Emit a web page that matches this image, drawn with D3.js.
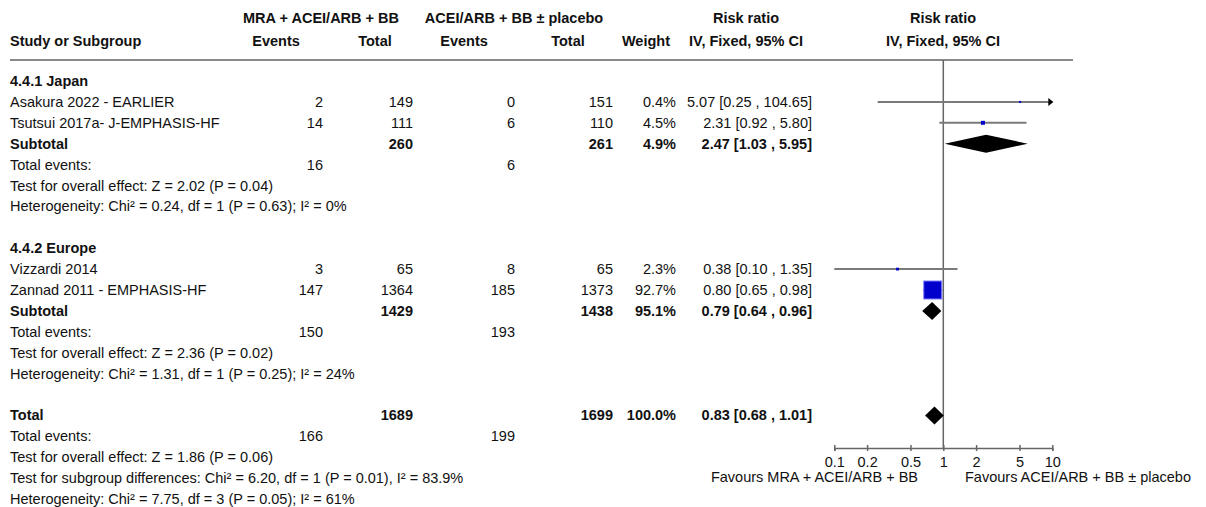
<!DOCTYPE html>
<html>
<head>
<meta charset="utf-8">
<script src="https://cdn.jsdelivr.net/npm/d3@7"></script>
<style>
  html, body { margin: 0; padding: 0; background: #fff; }
  svg { display: block; }
  text { font-family: "Liberation Sans", Arial, sans-serif; font-size: 14.5px; fill: #111; }
  .b { font-weight: bold; }
</style>
</head>
<body>
<svg id="chart" width="1206" height="507"></svg>
<script>
// Study-level data
const studies = ["Asakura 2022 - EARLIER", "Tsutsui 2017a- J-EMPHASIS-HF", "Vizzardi 2014", "Zannad 2011 - EMPHASIS-HF"];
const studyGroup = [0, 0, 1, 1];
const expEvents = [2, 14, 3, 147];
const expTotal = [149, 111, 65, 1364];
const ctlEvents = [0, 6, 8, 185];
const ctlTotal = [151, 110, 65, 1373];
const weights = [0.4, 4.5, 2.3, 92.7];
const rr = [5.07, 2.31, 0.38, 0.80];
const rrLo = [0.25, 0.92, 0.10, 0.65];
const rrHi = [104.65, 5.80, 1.35, 0.98];

// Subgroup summaries
const subgroups = ["4.4.1 Japan", "4.4.2 Europe"];
const subExpTotal = [260, 1429];
const subCtlTotal = [261, 1438];
const subExpEvents = [16, 150];
const subCtlEvents = [6, 193];
const subWeight = [4.9, 95.1];
const subRR = [2.47, 0.79];
const subLo = [1.03, 0.64];
const subHi = [5.95, 0.96];
const subTest = ["Test for overall effect: Z = 2.02 (P = 0.04)", "Test for overall effect: Z = 2.36 (P = 0.02)"];
const subHet = ["Heterogeneity: Chi\u00b2 = 0.24, df = 1 (P = 0.63); I\u00b2 = 0%", "Heterogeneity: Chi\u00b2 = 1.31, df = 1 (P = 0.25); I\u00b2 = 24%"];

// Overall summary
const totalExp = 1689;
const totalCtl = 1699;
const totalExpEvents = 166;
const totalCtlEvents = 199;
const totalWeight = 100.0;
const totalRR = 0.83;
const totalLo = 0.68;
const totalHi = 1.01;
const footerLines = [
  "Test for overall effect: Z = 1.86 (P = 0.06)",
  "Test for subgroup differences: Chi\u00b2 = 6.20, df = 1 (P = 0.01), I\u00b2 = 83.9%",
  "Heterogeneity: Chi\u00b2 = 7.75, df = 3 (P = 0.05); I\u00b2 = 61%"
];

// Axis
const axisTicks = [0.1, 0.2, 0.5, 1, 2, 5, 10];
const axisTickLabels = ["0.1", "0.2", "0.5", "1", "2", "5", "10"];
const favoursLeft = "Favours MRA + ACEI/ARB + BB";
const favoursRight = "Favours ACEI/ARB + BB \u00b1 placebo";

// Column headers
const groupHeaders = ["MRA + ACEI/ARB + BB", "ACEI/ARB + BB \u00b1 placebo", "Risk ratio", "Risk ratio"];
const colHeaders = ["Study or Subgroup", "Events", "Total", "Events", "Total", "Weight", "IV, Fixed, 95% CI", "IV, Fixed, 95% CI"];

const svg = d3.select("#chart");

// column anchors (right edges for numeric columns)
const col = { name: 10, expE: 323, expT: 413, ctlE: 515, ctlT: 613, w: 676, ci: 812 };

const x = d3.scaleLog().domain([0.1, 10]).range([834.3, 1052.3]);
const rowY = i => 81 + i * 20.9;
const base = 5; // baseline offset from row center

const fmtCI = (m, l, h) => `${m.toFixed(2)} [${l.toFixed(2)} , ${h.toFixed(2)}]`;
const fmtW = w => w.toFixed(1) + "%";

function txt(xp, y, s, anchor, bold) {
  svg.append("text")
    .attr("x", xp).attr("y", y + base)
    .attr("text-anchor", anchor || "start")
    .attr("class", bold ? "b" : null)
    .text(s);
}

// headers
txt(321, 18, groupHeaders[0], "middle", true);
txt(514, 18, groupHeaders[1], "middle", true);
txt(746, 18, groupHeaders[2], "middle", true);
txt(943, 18, groupHeaders[3], "middle", true);
txt(col.name, 41, colHeaders[0], "start", true);
txt(276, 41, colHeaders[1], "middle", true);
txt(375, 41, colHeaders[2], "middle", true);
txt(464, 41, colHeaders[3], "middle", true);
txt(568, 41, colHeaders[4], "middle", true);
txt(670, 41, colHeaders[5], "end", true);
txt(746, 41, colHeaders[6], "middle", true);
txt(943, 41, colHeaders[7], "middle", true);

svg.append("line").attr("x1", 10).attr("x2", 1073).attr("y1", 60).attr("y2", 60)
  .attr("stroke", "#8a8a8a").attr("stroke-width", 2);

// vertical line of no effect
svg.append("line").attr("x1", x(1)).attr("x2", x(1)).attr("y1", 60).attr("y2", 448)
  .attr("stroke", "#666").attr("stroke-width", 1.5);

const plot = svg.append("g");
const maxW = d3.max(weights);
const boxSize = w => Math.max(2, 18 * Math.sqrt(w / maxW));

function diamond(y, m, l, h) {
  const hh = 9;
  plot.append("path")
    .attr("d", `M${x(l)},${y} L${x(m)},${y - hh} L${x(h)},${y} L${x(m)},${y + hh} Z`)
    .attr("fill", "#000");
}

let r = 0;
subgroups.forEach((g, gi) => {
  txt(col.name, rowY(r), g, "start", true);
  r++;
  studies.forEach((s, i) => {
    if (studyGroup[i] !== gi) return;
    const y = rowY(r);
    txt(col.name, y, s);
    txt(col.expE, y, expEvents[i], "end");
    txt(col.expT, y, expTotal[i], "end");
    txt(col.ctlE, y, ctlEvents[i], "end");
    txt(col.ctlT, y, ctlTotal[i], "end");
    txt(col.w, y, fmtW(weights[i]), "end");
    txt(col.ci, y, fmtCI(rr[i], rrLo[i], rrHi[i]), "end");
    const [d0, d1] = x.domain();
    const lo = Math.max(rrLo[i], d0), hi = Math.min(rrHi[i], d1);
    plot.append("line").attr("x1", x(lo)).attr("x2", x(hi)).attr("y1", y).attr("y2", y)
      .attr("stroke", "#7a7a7a").attr("stroke-width", 2);
    if (rrHi[i] > d1) {
      plot.append("path")
        .attr("d", `M${x(d1) - 4},${y - 4} L${x(d1) + 1},${y} L${x(d1) - 4},${y + 4} Z`)
        .attr("fill", "#000");
    }
    const bs = boxSize(weights[i]);
    plot.append("rect")
      .attr("x", x(rr[i]) - bs / 2).attr("y", y - bs / 2)
      .attr("width", bs).attr("height", bs)
      .attr("fill", "#0000cc")
      .attr("stroke", bs > 6 ? "#7f7fff" : "none").attr("stroke-width", 1);
    r++;
  });
  let y = rowY(r);
  txt(col.name, y, "Subtotal", "start", true);
  txt(col.expT, y, subExpTotal[gi], "end", true);
  txt(col.ctlT, y, subCtlTotal[gi], "end", true);
  txt(col.w, y, fmtW(subWeight[gi]), "end", true);
  txt(col.ci, y, fmtCI(subRR[gi], subLo[gi], subHi[gi]), "end", true);
  diamond(y, subRR[gi], subLo[gi], subHi[gi]);
  r++;
  y = rowY(r);
  txt(col.name, y, "Total events:");
  txt(col.expE, y, subExpEvents[gi], "end");
  txt(col.ctlE, y, subCtlEvents[gi], "end");
  r++;
  txt(col.name, rowY(r), subTest[gi]); r++;
  txt(col.name, rowY(r), subHet[gi]); r++;
  r++; // blank spacer
});

let y = rowY(r);
txt(col.name, y, "Total", "start", true);
txt(col.expT, y, totalExp, "end", true);
txt(col.ctlT, y, totalCtl, "end", true);
txt(col.w, y, fmtW(totalWeight), "end", true);
txt(col.ci, y, fmtCI(totalRR, totalLo, totalHi), "end", true);
diamond(y, totalRR, totalLo, totalHi);
r++;
y = rowY(r);
txt(col.name, y, "Total events:");
txt(col.expE, y, totalExpEvents, "end");
txt(col.ctlE, y, totalCtlEvents, "end");
r++;
footerLines.forEach(l => { txt(col.name, rowY(r), l); r++; });

// axis
const axisY = 448;
const axis = d3.axisBottom(x).tickValues(axisTicks)
  .tickFormat((d, i) => axisTickLabels[i]).tickSizeOuter(0).tickSize(3).tickPadding(6);
const ag = svg.append("g").attr("transform", `translate(0,${axisY})`).call(axis);
ag.select(".domain").attr("stroke", "#666").attr("stroke-width", 1.5);
ag.selectAll(".tick line").attr("y1", -3).attr("y2", 3).attr("stroke", "#666").attr("stroke-width", 1.5);
ag.selectAll(".tick text").attr("fill", "#111")
  .style("font-family", '"Liberation Sans", Arial, sans-serif').style("font-size", "14.5px");

txt(918, 477, favoursLeft, "end");
txt(965, 477, favoursRight, "start");
</script>
</body>
</html>
